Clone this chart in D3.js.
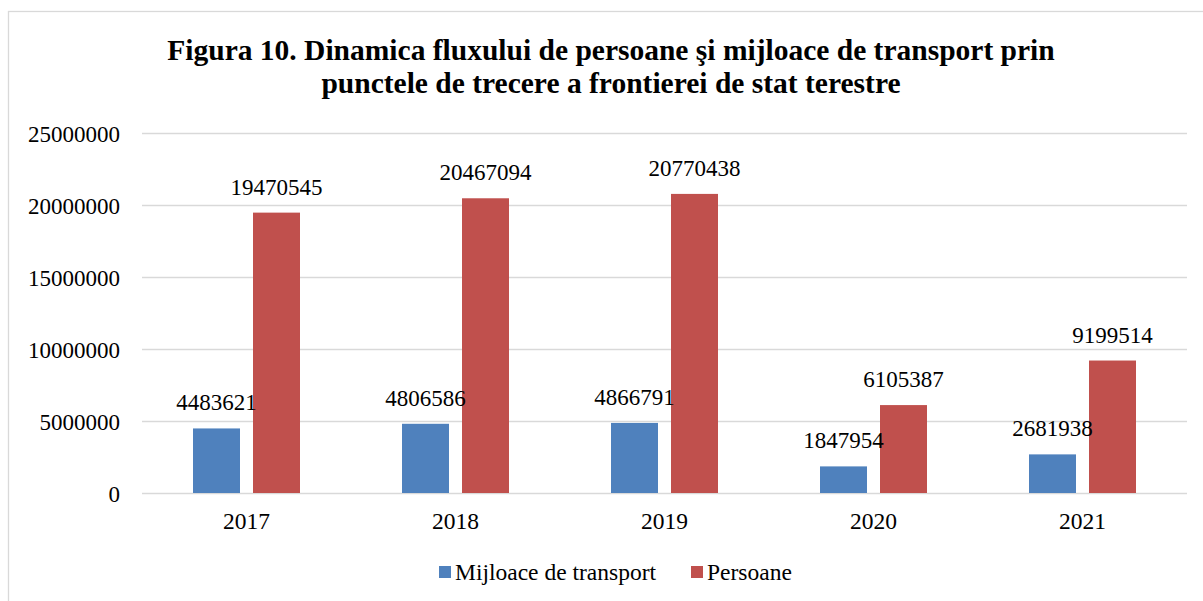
<!DOCTYPE html>
<html>
<head>
<meta charset="utf-8">
<script src="https://cdn.jsdelivr.net/npm/d3@7"></script>
<style>
  body { margin: 0; background: #fff; }
  svg text { font-family: "Liberation Serif", "Times New Roman", serif; fill: #000; }
</style>
</head>
<body>
<svg id="chart" width="1203" height="601"></svg>
<script>
// date
const years = ["2017", "2018", "2019", "2020", "2021"];
const transport = [4483621, 4806586, 4866791, 1847954, 2681938];
const persoane = [19470545, 20467094, 20770438, 6105387, 9199514];
const yTicks = [0, 5000000, 10000000, 15000000, 20000000, 25000000];
const seriesNames = ["Mijloace de transport", "Persoane"];
const titleLines = [
    "Figura 10. Dinamica fluxului de persoane şi mijloace de transport prin",
    "punctele de trecere a frontierei de stat terestre"
];

const colors = ["#4f81bd", "#c0504d"];
const svg = d3.select("#chart");
const margin = { top: 133, left: 142, right: 16, bottom: 108 };
const W = 1203, H = 601;
const plotW = W - margin.left - margin.right;
const plotH = H - margin.top - margin.bottom;

// chenarul graficului
svg.append("rect")
    .attr("x", 8.5).attr("y", 11.5)
    .attr("width", 1205).attr("height", 600)
    .attr("fill", "none")
    .attr("stroke", "#d9d9d9")
    .attr("stroke-width", 1.3);

// titlu
svg.append("text")
    .attr("x", 611).attr("y", 60)
    .attr("text-anchor", "middle")
    .style("font-size", "29.5px")
    .style("font-weight", "bold")
    .selectAll("tspan")
    .data(titleLines)
    .enter()
    .append("tspan")
    .attr("x", 611)
    .attr("dy", (d, i) => i === 0 ? 0 : 33)
    .text(d => d);

const g = svg.append("g")
    .attr("transform", `translate(${margin.left},${margin.top})`);

const x = d3.scaleBand()
    .domain(years)
    .range([0, plotW]);

const y = d3.scaleLinear()
    .domain([0, 25000000])
    .range([plotH, 0]);

const barW = 47, barGap = 13;
const xs = d3.scaleOrdinal()
    .domain([0, 1])
    .range([-(barW + barGap / 2), barGap / 2]);

// linii de grilă
g.append("g")
    .call(d3.axisLeft(y).tickValues(yTicks).tickSize(-plotW).tickFormat(d => d))
    .call(a => a.select(".domain").remove())
    .call(a => a.selectAll("line").attr("stroke", "#d9d9d9").attr("stroke-width", 1.3))
    .call(a => a.selectAll("text")
        .attr("x", -22)
        .attr("dy", "0.35em")
        .style("font-size", "23px")
        .style("font-family", "Liberation Serif"));

// axa X
g.append("g")
    .attr("transform", `translate(0,${plotH})`)
    .call(d3.axisBottom(x).tickSize(0))
    .call(a => a.select(".domain").remove())
    .call(a => a.selectAll("text")
        .attr("y", 0)
        .attr("dy", "36px")
        .style("font-size", "23.5px")
        .style("font-family", "Liberation Serif"));

const data = [transport, persoane];

// bare
data.forEach((vals, si) => {
    g.append("g").selectAll("rect")
        .data(vals)
        .enter()
        .append("rect")
        .attr("x", (d, i) => x(years[i]) + x.bandwidth() / 2 + xs(si))
        .attr("y", d => y(d))
        .attr("width", barW)
        .attr("height", d => plotH - y(d))
        .attr("fill", colors[si]);
});

// etichete de valori, deasupra barelor
data.forEach((vals, si) => {
    g.append("g").selectAll("text")
        .data(vals)
        .enter()
        .append("text")
        .attr("x", (d, i) => x(years[i]) + x.bandwidth() / 2 + xs(si) + barW / 2)
        .attr("y", d => y(d) - 18)
        .attr("text-anchor", "middle")
        .style("font-size", "23px")
        .text(d => d);
});

// legenda
const legend = svg.append("g").attr("transform", "translate(439,566)");
const items = [{ x: 0, text: seriesNames[0] }, { x: 252, text: seriesNames[1] }];
items.forEach((it, i) => {
    legend.append("rect")
        .attr("x", it.x).attr("y", 0)
        .attr("width", 12).attr("height", 12)
        .attr("fill", colors[i]);
    legend.append("text")
        .attr("x", it.x + 16).attr("y", 14)
        .style("font-size", "23.5px")
        .text(it.text);
});
</script>
</body>
</html>
